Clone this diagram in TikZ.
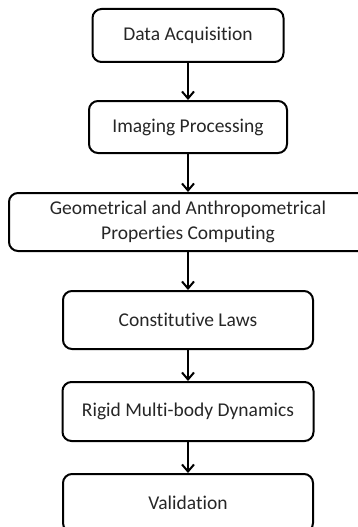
\documentclass[tikz,border=0pt]{standalone}
\usepackage{fontspec}
\setmainfont[Ligatures=NoCommon]{Carlito}
\usetikzlibrary{arrows.meta}
\begin{document}
\begin{tikzpicture}[x=1pt,y=-1pt,
  box/.style={draw, line width=2pt, rounded corners=9pt, inner sep=0pt, align=center,
    font=\fontsize{19.5}{25}\selectfont, text=black!85},
  arr/.style={line width=2pt, -{Straight Barb[length=7pt,width=12pt,line width=2pt]}}]
\useasboundingbox (0,0) rectangle (358,527);
\begin{scope}
\clip (0,0) rectangle (358,527);
\node[box, minimum width=191pt, minimum height=53pt] (b1) at (188,35.5) {Data Acquisition};
\node[box, minimum width=198pt, minimum height=52pt] (b2) at (188,127) {Imaging Processing};
\node[box, minimum width=378pt, minimum height=58pt] (b3) at (198,222) {};
\node[font=\fontsize{19.5}{25}\selectfont, text=black!85, align=center] (t3) at (188,222) {Geometrical and Anthropometrical\\Properties Computing};
\node[box, minimum width=250pt, minimum height=58pt] (b4) at (188,320) {Constitutive Laws};
\node[box, minimum width=251pt, minimum height=59pt] (b5) at (188,411.5) {Rigid Multi-body Dynamics};
\node[box, minimum width=250pt, minimum height=58pt] (b6) at (188,503) {Validation};
\draw[arr] (b1.south) -- (b2.north);
\draw[arr] (b2.south) -- (t3.north |- b3.north);
\draw[arr] (t3.south |- b3.south) -- (b4.north);
\draw[arr] (b4.south) -- (b5.north);
\draw[arr] (b5.south) -- (b6.north);
\end{scope}
\end{tikzpicture}
\end{document}
